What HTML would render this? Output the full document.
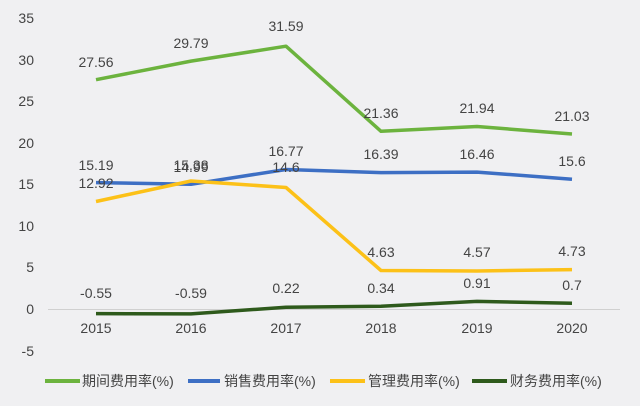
<!DOCTYPE html><html><head><style>body{margin:0;background:#f0f0f2}svg{display:block}text{font-family:"Liberation Sans","Noto Sans CJK SC",sans-serif;fill:#444}</style></head><body>
<svg width="640" height="406" viewBox="0 0 640 406">
<rect width="640" height="406" fill="#f0f0f2"/>
<g font-size="14" text-anchor="end">
<text x="34" y="23">35</text><text x="34" y="65">30</text><text x="34" y="106">25</text><text x="34" y="148">20</text><text x="34" y="189">15</text><text x="34" y="231">10</text><text x="34" y="272">5</text><text x="34" y="314">0</text><text x="34" y="356">-5</text></g>
<line x1="48" y1="309.5" x2="620" y2="309.5" stroke="#d0d0d0"/>
<g font-size="14" text-anchor="middle">
<text x="96" y="333">2015</text><text x="191" y="333">2016</text><text x="286" y="333">2017</text><text x="381" y="333">2018</text><text x="477" y="333">2019</text><text x="572" y="333">2020</text></g>
<g fill="none" stroke-width="3.5" stroke-linejoin="round">
<polyline stroke="#6cb33e" points="96,79.7 191,61.1 286,46.2 381,131.3 477,126.5 572,134"/>
<polyline stroke="#3d6fc4" points="96,182.6 191,184.3 286,169.5 381,172.6 477,172.1 572,179.2"/>
<polyline stroke="#fcc118" points="96,201.5 191,181 286,187.5 381,270.5 477,271 572,269.6"/>
<polyline stroke="#2e5a1c" points="96,313.6 191,313.9 286,307.2 381,306.2 477,301.4 572,303.2"/>
</g>
<g font-size="14" text-anchor="middle">
<text x="96" y="67">27.56</text><text x="191" y="48">29.79</text><text x="286" y="31">31.59</text><text x="381" y="118">21.36</text><text x="477" y="113">21.94</text><text x="572" y="121">21.03</text>
<text x="96" y="170">15.19</text><text x="191" y="170">15.38</text><text x="286" y="156">16.77</text><text x="381" y="159">16.39</text><text x="477" y="159">16.46</text><text x="572" y="166">15.6</text>
<text x="96" y="188">12.92</text><text x="191" y="172">14.99</text><text x="286" y="172">14.6</text><text x="381" y="257">4.63</text><text x="477" y="257">4.57</text><text x="572" y="256">4.73</text>
<text x="96" y="298">-0.55</text><text x="191" y="298">-0.59</text><text x="286" y="293">0.22</text><text x="381" y="293">0.34</text><text x="477" y="288">0.91</text><text x="572" y="290">0.7</text></g>
<g stroke-width="4">
<line x1="45" y1="381" x2="80" y2="381" stroke="#6cb33e"/>
<line x1="188" y1="381" x2="220" y2="381" stroke="#3d6fc4"/>
<line x1="330" y1="381" x2="365" y2="381" stroke="#fcc118"/>
<line x1="472" y1="381" x2="507" y2="381" stroke="#2e5a1c"/></g>
<g font-size="14"><text x="82" y="386">期间费用率(%)</text><text x="224" y="386">销售费用率(%)</text><text x="368" y="386">管理费用率(%)</text><text x="510" y="386">财务费用率(%)</text></g>
</svg></body></html>
